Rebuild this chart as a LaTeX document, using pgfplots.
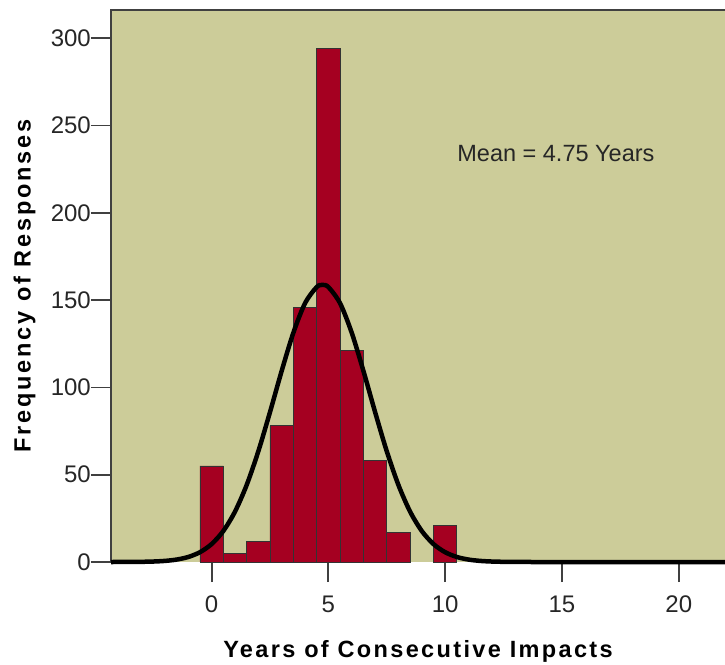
\documentclass[border=0pt]{standalone}
\usepackage{pgfplots}
\pgfplotsset{compat=1.18}
\usepackage{fontspec}
\setmainfont{Liberation Sans}
\definecolor{bg}{RGB}{204,204,153}
\definecolor{barred}{RGB}{165,0,33}
\definecolor{tk}{RGB}{64,64,64}
\begin{document}
\begin{tikzpicture}
\useasboundingbox (-111pt,-102pt) rectangle (614pt,562pt);
\begin{axis}[
  at={(0pt,0pt)}, anchor=south west,
  scale only axis, width=614pt, height=552pt,
  xmin=-4.307, xmax=21.98, ymin=0, ymax=316.2,
  axis background/.style={fill=bg},
  axis line style={draw=none},
  clip=false,
  tick align=outside, major tick length=20pt,
  tick style={tk, line width=1.8pt},
  xtick={0,5,10,15,20}, ytick={0,50,...,300},
  xtick pos=lower, ytick pos=left,
  minor tick num=0,
  /pgf/number format/assume math mode=true,
  tick label style={font=\fontsize{24}{28}\selectfont, text=black!85, inner sep=0pt},
  xticklabel style={anchor=north, yshift=-14pt},
  yticklabel style={anchor=east},
  xlabel={Years of Consecutive Impacts},
  ylabel={Frequency of Responses},
  xlabel style={at={(axis description cs:0.5,-0.1721)}, anchor=base, font=\fontsize{23.5}{28}\selectfont\bfseries\addfontfeatures{LetterSpace=10}},
  ylabel style={at={(axis description cs:-0.1310,0.5)}, anchor=base, rotate=0, font=\fontsize{23.5}{28}\selectfont\bfseries\addfontfeatures{LetterSpace=12}},
]
\addplot[ybar, bar width=1, fill=barred, draw=black!80, line width=0.8pt]
  coordinates {(0,55)(1,5)(2,12)(3,78)(4,146)(5,294)(6,121)(7,58)(8,17)(10,21)};
\draw[tk, line width=2pt] (rel axis cs:0,0) -- (rel axis cs:0,1) -- (rel axis cs:1,1);
\addplot[black, line width=4.5pt, smooth] coordinates {
(-4.307,0) (-3.5,0.03) (-3,0.11) (-2.5,0.27) (-2,0.63) (-1.5,1.39) (-1,2.87) (-0.5,5.60)
(0,10.27) (0.5,17.73) (1,28.82) (1.5,44.06) (2,63.40) (2.5,85.86) (3,109.44) (3.5,131.29)
(4,148.22) (4.5,157.50) (4.75,158.7) (5,157.50) (5.5,148.22) (6,131.29) (6.5,109.44)
(7,85.86) (7.5,63.40) (8,44.06) (8.5,28.82) (9,17.73) (9.5,10.27) (10,5.60) (10.5,2.87)
(11,1.39) (11.5,0.63) (12,0.27) (12.5,0.11) (13,0.04) (14,0) (21.98,0)};
\node[anchor=base, font=\fontsize{23.5}{28}\selectfont, text=black!85] at (axis cs:14.74,229.3) {Mean = 4.75 Years};
\end{axis}
\end{tikzpicture}
\end{document}
